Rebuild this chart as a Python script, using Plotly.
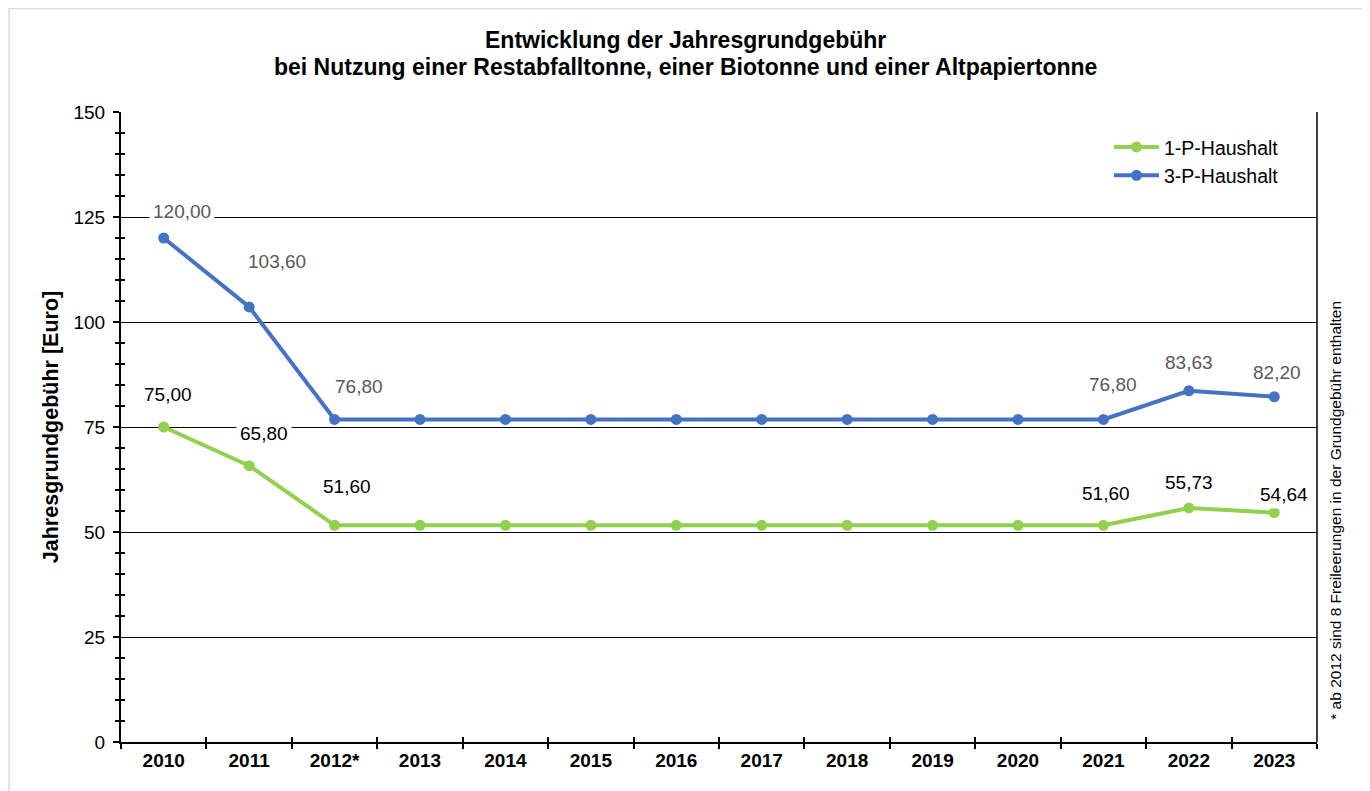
import plotly.graph_objects as go

years = ["2010", "2011", "2012*", "2013", "2014", "2015", "2016", "2017",
         "2018", "2019", "2020", "2021", "2022", "2023"]
p1 = [75.00, 65.80, 51.60, 51.60, 51.60, 51.60, 51.60, 51.60, 51.60, 51.60, 51.60, 51.60, 55.73, 54.64]
p3 = [120.00, 103.60, 76.80, 76.80, 76.80, 76.80, 76.80, 76.80, 76.80, 76.80, 76.80, 76.80, 83.63, 82.20]
labelled = [0, 1, 2, 11, 12, 13]
# label offsets (px) for readability, per labelled point
p1_shift = {0: (4, 33), 1: (15, 32), 2: (12, 39), 11: (3, 32), 12: (0, 25), 13: (10, 18)}
p3_shift = {0: (18, 27), 1: (28, 45), 2: (24, 33), 11: (10, 35), 12: (0, 28), 13: (3, 24)}

FONT = "Arial, Liberation Sans, sans-serif"
GREEN = "#92D050"
BLUE = "#4472C4"

fig = go.Figure()
fig.add_trace(go.Scatter(x=years, y=p1, name="1-P-Haushalt", mode="lines+markers",
                         line=dict(color=GREEN, width=4), marker=dict(size=11, color=GREEN)))
fig.add_trace(go.Scatter(x=years, y=p3, name="3-P-Haushalt", mode="lines+markers",
                         line=dict(color=BLUE, width=4), marker=dict(size=11, color=BLUE)))
# invisible helper trace for crossing tick marks
fig.add_trace(go.Scatter(x=years, y=p1, xaxis="x2", yaxis="y2", mode="lines",
                         line=dict(width=0), opacity=0, showlegend=False, hoverinfo="skip"))

for i in labelled:
    dx, dy = p1_shift[i]
    fig.add_annotation(x=i, y=p1[i], text=f"{p1[i]:.2f}".replace(".", ","),
                       showarrow=False, xshift=dx, yshift=dy, bgcolor="white", borderpad=3,
                       font=dict(family=FONT, size=19, color="#000000"))
    dx, dy = p3_shift[i]
    fig.add_annotation(x=i, y=p3[i], text=f"{p3[i]:.2f}".replace(".", ","),
                       showarrow=False, xshift=dx, yshift=dy, bgcolor="white", borderpad=3,
                       font=dict(family=FONT, size=19, color="#595959"))

fig.add_annotation(xref="paper", yref="paper", x=1.0243, y=0.368,
                   text="* ab 2012 sind 8 Freileerungen in der Grundgebühr enthalten",
                   showarrow=False, textangle=-90, font=dict(family=FONT, size=15.5, color="#000000"))

# two-line title
fig.add_annotation(xref="paper", yref="paper", x=0.4716, y=1.1143, yanchor="middle",
                   text="<b>Entwicklung der Jahresgrundgebühr</b>", showarrow=False,
                   font=dict(family=FONT, size=23, color="#000000"))
fig.add_annotation(xref="paper", yref="paper", x=0.4716, y=1.0714, yanchor="middle",
                   text="<b>bei Nutzung einer Restabfalltonne, einer Biotonne und einer Altpapiertonne</b>",
                   showarrow=False, font=dict(family=FONT, size=23, color="#000000"))

fig.update_layout(
    width=1370, height=791,
    paper_bgcolor="white", plot_bgcolor="white",
    margin=dict(l=113, r=61, t=104, b=57),
    font=dict(family=FONT, color="#000000"),
    legend=dict(x=0.9724, xanchor="right", y=0.975, yanchor="top",
                font=dict(family=FONT, size=19.5, color="#000000"), bgcolor="rgba(0,0,0,0)",
                itemwidth=45),
    xaxis=dict(type="category", tickson="boundaries", ticks="outside", ticklen=5, tickwidth=1.5,
               tickcolor="black", showline=True, linecolor="black", linewidth=2, showgrid=False,
               tickfont=dict(family=FONT, size=19, color="#000000", weight="bold"), range=[-0.5, 13.5]),
    xaxis2=dict(type="category", overlaying="x", tickson="boundaries", ticks="inside", ticklen=5,
                tickwidth=1.5, tickcolor="black", showticklabels=False, showgrid=False, showline=False,
                range=[-0.5, 13.5]),
    yaxis=dict(range=[0, 150], dtick=25, ticks="outside", ticklen=6, tickwidth=1.5, tickcolor="black",
               showline=True, linecolor="black", linewidth=2, showgrid=True, gridcolor="black",
               gridwidth=1, zeroline=False, ticklabelstandoff=4,
               tickfont=dict(family=FONT, size=19, color="#000000"),
               title=dict(text="<b>Jahresgrundgebühr [Euro]</b>", font=dict(family=FONT, size=21.5, color="#000000"),
                          standoff=9),
               minor=dict(dtick=5, ticks="outside", ticklen=4, tickwidth=1.5, tickcolor="black", showgrid=False)),
    yaxis2=dict(range=[0, 150], overlaying="y", dtick=25, ticks="", showticklabels=False, showgrid=False,
                zeroline=False, showline=False,
                minor=dict(dtick=5, ticks="inside", ticklen=4, tickwidth=1.5, tickcolor="black", showgrid=False)),
)

# plot area right border
fig.add_shape(type="line", xref="paper", yref="paper", x0=1, x1=1, y0=0, y1=1,
              line=dict(color="black", width=1.5))
# outer chart frame
fig.add_shape(type="rect", xref="paper", yref="paper", x0=-0.0936, x1=1.0418, y0=-0.2, y1=1.1643,
              line=dict(color="#d9d9d9", width=1.5), layer="below")

fig.write_html("out.html")
